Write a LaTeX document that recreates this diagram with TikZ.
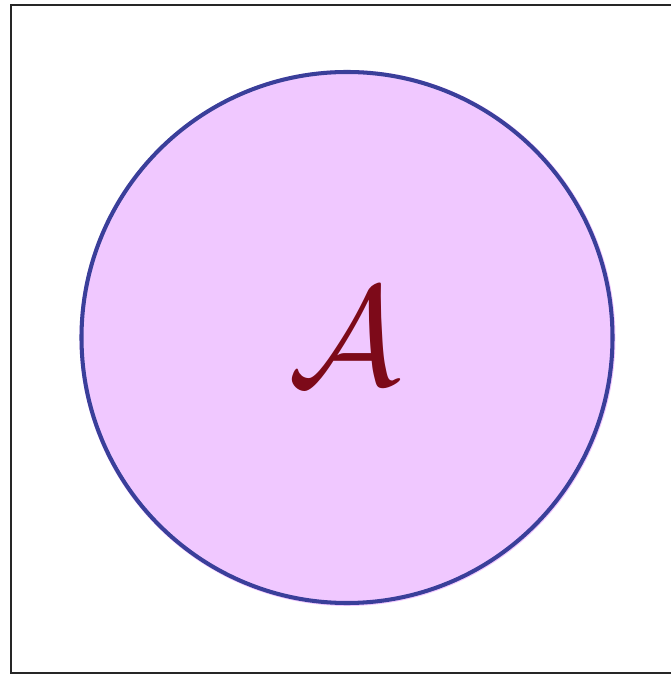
\documentclass[tikz,border=0pt]{standalone}
\usepackage{xcolor}
\usetikzlibrary{positioning}
\definecolor{setfill}{HTML}{F0C8FF}
\definecolor{setline}{HTML}{3A3F9A}
\definecolor{setlabel}{HTML}{7D0A19}

\begin{document}
\begin{tikzpicture}[
    frame/.style={draw=black!85, line width=1.1pt},
    setshade/.style={circle, fill=setfill, draw=none, minimum size=10.72cm, inner sep=0pt},
    setborder/.style={circle, draw=setline, line width=2.3pt, minimum size=10.62cm, inner sep=0pt},
    setname/.style={text=setlabel, inner sep=0pt}
]
\useasboundingbox (0,0) rectangle (13.42,13.5);
\draw[frame] (0.22,0.04) rectangle (13.9,13.4);
% the set, its filling a little wider than its outline
\node[setshade] (shadeA) at (6.95,6.74) {};
\node[setborder] (setA) at (6.94,6.75) {};
\node[setname] (nameA) at (6.90,6.78) {\scalebox{8.0}{$\mathcal{A}$}};
\end{tikzpicture}
\end{document}
